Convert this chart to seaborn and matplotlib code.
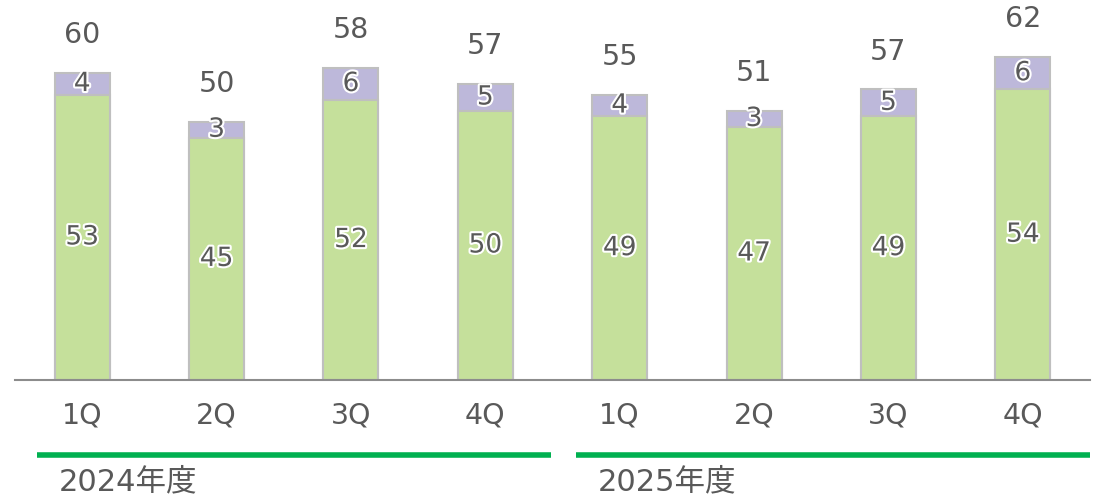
import numpy as np
import pandas as pd
import seaborn as sns
import matplotlib.pyplot as plt
import matplotlib.patheffects as pe
from matplotlib.transforms import blended_transform_factory

# data
quarters = ['1Q', '2Q', '3Q', '4Q', '1Q', '2Q', '3Q', '4Q']
years = ['2024年度', '2025年度']
green_vals = [53, 45, 52, 50, 49, 47, 49, 54]
purple_vals = [4, 3, 6, 5, 4, 3, 5, 6]
total_labels = [60, 50, 58, 57, 55, 51, 57, 62]

sns.set_theme(style='white')
plt.rcParams['font.family'] = ['DejaVu Sans', 'Noto Sans CJK JP']

text_col = '#595959'
green = '#C5E09B'
purple = '#BDB8DA'
edge = '#BFBFBF'

keys = [f'{i}' for i in range(len(quarters))]
df = pd.DataFrame({'key': keys,
                   'green': green_vals,
                   'stack': np.array(green_vals) + np.array(purple_vals)})

fig = plt.figure(figsize=(11.07, 5.02), dpi=100)
ax = fig.add_axes([15 / 1107, 1 - 381 / 502, 1075 / 1107, 381 / 502])

bw = 0.41
sns.barplot(data=df, x='key', y='stack', order=keys, color=purple, width=bw,
            edgecolor=edge, linewidth=1.5, saturation=1, ax=ax)
sns.barplot(data=df, x='key', y='green', order=keys, color=green, width=bw,
            edgecolor=edge, linewidth=1.5, saturation=1, ax=ax)

ax.set_xlim(-0.5, 7.5)
ax.set_ylim(0, 70.8)
ax.set_xlabel('')
ax.set_ylabel('')
ax.set_yticks([])
ax.set_xticks(range(len(quarters)))
ax.set_xticklabels(quarters, fontsize=20.5, color=text_col)
ax.tick_params(axis='x', length=0, pad=15)
for s in ['top', 'right', 'left']:
    ax.spines[s].set_visible(False)
ax.spines['bottom'].set_color('#8C8C8C')
ax.spines['bottom'].set_linewidth(1.5)

stroke = [pe.withStroke(linewidth=3, foreground='white')]
for i in range(len(quarters)):
    g = green_vals[i]
    p = purple_vals[i]
    ax.text(i, g / 2, str(g), ha='center', va='center', fontsize=19,
            color=text_col, path_effects=stroke)
    ax.text(i, g + p / 2, str(p), ha='center', va='center', fontsize=19,
            color=text_col, path_effects=stroke)
    ax.annotate(str(total_labels[i]), (i, g + p), xytext=(0, 28),
                textcoords='offset points', ha='center', va='center',
                fontsize=20.5, color=text_col)

# year group lines + labels
tr = blended_transform_factory(ax.transData, fig.transFigure)
spans = [(-0.336, 3.488), (3.674, 7.5)]
for (x0, x1), yr in zip(spans, years):
    ax.plot([x0, x1], [1 - 456 / 502] * 2, color='#00B050', lw=4,
            transform=tr, clip_on=False, solid_capstyle='butt')
    ax.text(x0 + 0.16, 1 - 482 / 502, yr, transform=tr, ha='left',
            va='center', fontsize=22, color=text_col)

fig.savefig('out.png', dpi=100)
